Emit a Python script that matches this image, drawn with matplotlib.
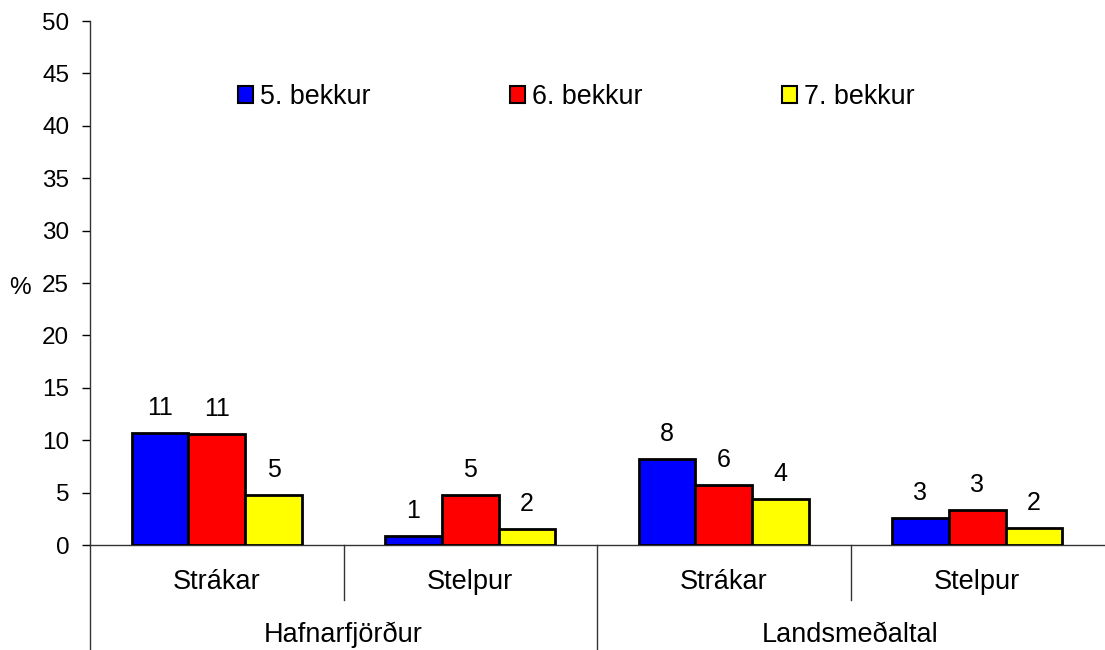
import matplotlib
matplotlib.use("Agg")
import matplotlib.pyplot as plt
import numpy as np
from matplotlib.patches import Patch
from matplotlib.transforms import blended_transform_factory

plt.rcParams['font.family'] = ['Liberation Sans', 'DejaVu Sans']

subcats = ["Strákar", "Stelpur", "Strákar", "Stelpur"]
groups = ["Hafnarfjörður", "Landsmeðaltal"]
series_names = ["5. bekkur", "6. bekkur", "7. bekkur"]
grade5 = [10.7, 0.9, 8.2, 2.6]
grade6 = [10.6, 4.8, 5.7, 3.3]
grade7 = [4.8, 1.52, 4.4, 1.6]
labels5 = ["11", "1", "8", "3"]
labels6 = ["11", "5", "6", "3"]
labels7 = ["5", "2", "4", "2"]
colors = ["#0000FF", "#FF0000", "#FFFF00"]

W, H = 1105, 650
fig = plt.figure(figsize=(W / 100, H / 100), dpi=100)
left, right, top, bottom = 90, 1104, 21, 545
ax = fig.add_axes([left / W, (H - bottom) / H, (right - left) / W, (bottom - top) / H])

x = np.arange(len(subcats))
bw = 0.224
for i, (vals, labs) in enumerate(zip([grade5, grade6, grade7], [labels5, labels6, labels7])):
    pos = x + (i - 1) * bw
    bars = ax.bar(pos, vals, width=bw, color=colors[i], edgecolor="black", linewidth=2,
                  label=series_names[i], zorder=3)
    for b, lab in zip(bars, labs):
        ax.annotate(lab, (b.get_x() + b.get_width() / 2, b.get_height()),
                    xytext=(0, 18), textcoords="offset points", ha="center", va="center",
                    fontsize=18)

ax.set_xlim(-0.5, 3.5)
ax.set_ylim(0, 50)
ax.set_yticks(np.arange(0, 51, 5))
ax.tick_params(axis="y", labelsize=17.5, direction="out", length=6, width=1, pad=9)
ax.set_xticks([])
for s in ["top", "right"]:
    ax.spines[s].set_visible(False)
for s in ["left", "bottom"]:
    ax.spines[s].set_linewidth(1)
    ax.spines[s].set_color("#333333")

ax.set_ylabel("%", rotation=0, fontsize=17.5)
ax.yaxis.set_label_coords(-0.069, 0.47)

trans = blended_transform_factory(ax.transData, ax.transAxes)
ah = bottom - top
# divider lines
for xv, depth in [(-0.5, 105), (0.5, 55), (1.5, 105), (2.5, 55)]:
    ax.plot([xv, xv], [0, -depth / ah], transform=trans, color="#333333", lw=1, clip_on=False)
for xi, lab in zip(x, subcats):
    ax.text(xi, -37 / ah, lab, transform=trans, ha="center", va="center", fontsize=19.5)
for gi, g in enumerate(groups):
    ax.text(0.5 + 2 * gi, -90 / ah, g, transform=trans, ha="center", va="center", fontsize=19.5)

handles = [Patch(facecolor=c, edgecolor="black", linewidth=1.5) for c in colors]
leg = ax.legend(handles, series_names, ncol=3, frameon=False, fontsize=19.4,
                loc="center left", bbox_to_anchor=((238 - left) / (right - left), (bottom - 97) / ah),
                handlelength=0.55, handleheight=0.55, handletextpad=0.25, columnspacing=5.2,
                borderpad=0, borderaxespad=0)

fig.savefig("out.png", dpi=100)
